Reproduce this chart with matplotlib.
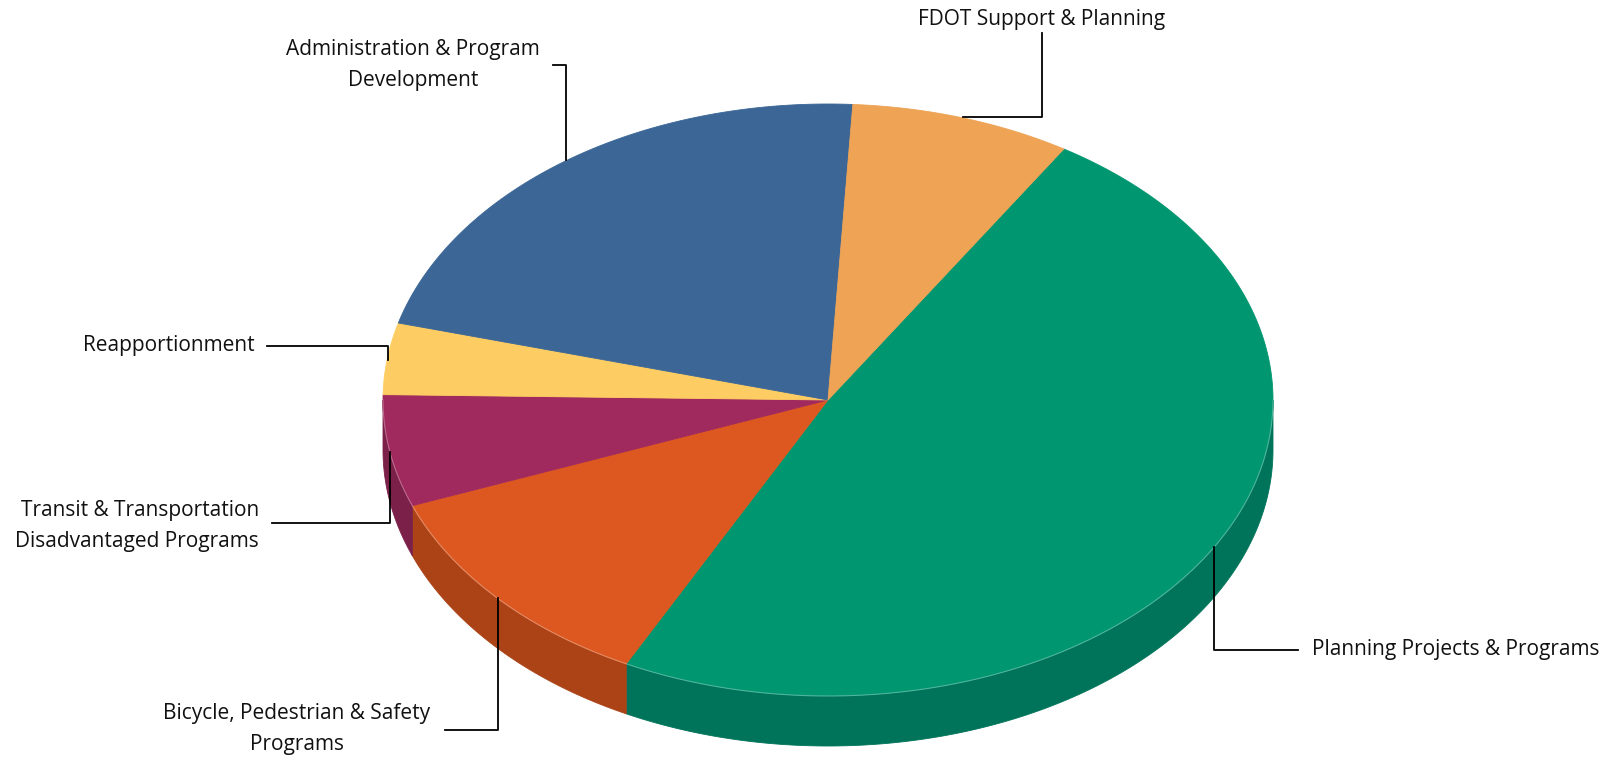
import numpy as np
import matplotlib
matplotlib.use("Agg")
import matplotlib.pyplot as plt
from matplotlib.patches import Polygon

# ---- data (clockwise from the start angle) ----
categories = ["Planning Projects & Programs",
              "Bicycle, Pedestrian & Safety\nPrograms",
              "Transit & Transportation\nDisadvantaged Programs",
              "Reapportionment",
              "Administration & Program\nDevelopment",
              "FDOT Support & Planning"]
values = [48.6, 11.7, 6.1, 3.9, 21.7, 8.0]

top_colors = ["#009670", "#DC5820", "#A0295E", "#FDCD63", "#3B6696", "#EEA355"]
side_colors = ["#00745A", "#AB4317", "#7B2048", "#C9A24C", "#2E5077", "#BC8040"]

# ---- layout (pixel space) ----
W, H = 1614, 760
fig = plt.figure(figsize=(W / 100, H / 100), dpi=100)
ax = fig.add_axes([0, 0, 1, 1])
ax.set_xlim(0, W)
ax.set_ylim(H, 0)
ax.axis("off")

cx, cy, a, b, depth = 828, 400, 445, 296, 50
start_angle = 58.0


def pt(t_deg, dy=0):
    t = np.radians(t_deg)
    return cx + a * np.cos(t), cy - b * np.sin(t) + dy


fr = np.array(values) / np.sum(values)
ends = start_angle - 360 * np.cumsum(fr)
starts = np.concatenate([[start_angle], ends[:-1]])

# side walls (front half only: angles in [180, 360] mod 360)
for s, e, col in zip(starts, ends, side_colors):
    lo, hi = e, s  # hi > lo
    for k in range(-2, 2):
        wlo, whi = 180 + 360 * k, 360 + 360 * k
        l, h = max(lo, wlo), min(hi, whi)
        if h > l:
            ts = np.linspace(l, h, 200)
            xs, ys = pt(ts)
            xb, yb = pt(ts[::-1], depth)
            poly = np.column_stack([np.concatenate([xs, xb]), np.concatenate([ys, yb])])
            ax.add_patch(Polygon(poly, closed=True, facecolor=col, edgecolor=col,
                                 lw=0.6, zorder=1))

# top surface
for s, e, col in zip(starts, ends, top_colors):
    ts = np.linspace(s, e, 400)
    xs, ys = pt(ts)
    poly = np.column_stack([np.concatenate([[cx], xs]), np.concatenate([[cy], ys])])
    ax.add_patch(Polygon(poly, closed=True, facecolor=col, edgecolor=col,
                         lw=0.6, zorder=2))

# faint highlight along front rim
ts = np.linspace(180, 360, 400)
xs, ys = pt(ts)
ax.plot(xs, ys, color="white", lw=0.8, alpha=0.3, zorder=3)

# ---- labels and leader lines ----
font = dict(family=["Open Sans", "DejaVu Sans"], fontsize=15, color="#111111")
lw = 1.3
ls2 = 1.58

# Planning
ax.plot([1298, 1214, 1214], [650, 650, 547], color="black", lw=lw, zorder=4)
ax.text(1312, 650, categories[0], ha="left", va="center", **font)
# Bicycle
ax.plot([445, 498, 498], [730, 730, 598], color="black", lw=lw, zorder=4)
ax.text(297, 729, categories[1], ha="center", va="center", multialignment="center",
        linespacing=ls2, **font)
# Transit
ax.plot([272, 390, 390], [523, 523, 452], color="black", lw=lw, zorder=4)
ax.text(259, 526, categories[2], ha="right", va="center", multialignment="right",
        linespacing=ls2, **font)
# Reapportionment
ax.plot([267, 388, 388], [346, 346, 360], color="black", lw=lw, zorder=4)
ax.text(255, 346, categories[3], ha="right", va="center", **font)
# Administration
ax.plot([553, 566, 566], [65, 65, 160], color="black", lw=lw, zorder=4)
ax.text(413, 65, categories[4], ha="center", va="center", multialignment="center",
        linespacing=ls2, **font)
# FDOT
ax.plot([963, 1042, 1042], [117, 117, 33], color="black", lw=lw, zorder=4)
ax.text(1042, 20, categories[5], ha="center", va="center", **font)

fig.savefig("out.png", dpi=100, facecolor="white")
